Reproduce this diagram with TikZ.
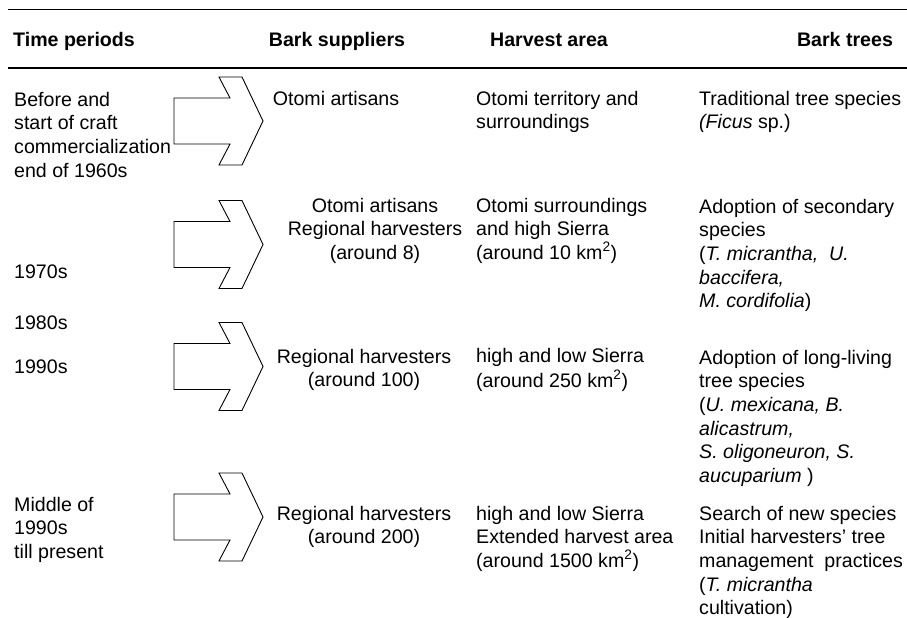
\documentclass[tikz,border=0pt]{standalone}
\usepackage{fontspec}
\setmainfont{Liberation Sans}
\begin{document}
\begin{tikzpicture}[x=1pt,y=1pt,
  txt/.style={inner sep=0pt, font=\fontsize{19.6}{23.6}\selectfont},
  colhead/.style={inner sep=0pt, font=\fontsize{19.6}{23.6}\selectfont\bfseries},
  lefttext/.style={txt, align=left, anchor=north west},
  midtext/.style={txt, align=center, anchor=north},
  bigarrow/.pic={\draw[line width=0.9pt, fill=white, line join=miter]
      (0,23) -- (56,23) -- (45,44) -- (68,44) -- (89,0) -- (68,-44)
      -- (45,-44) -- (56,-23) -- (0,-23) -- cycle;}
]
\useasboundingbox (0,0) rectangle (907,-618);

% table rules
\coordinate (topL) at (8,-10);  \coordinate (topR) at (907,-10);
\coordinate (midL) at (8,-68);  \coordinate (midR) at (907,-68);
\draw[line width=1pt] (topL) -- (topR);
\draw[line width=2.2pt] (midL) -- (midR);

% column headings
\node[colhead, anchor=base west] (hTime) at (13,-47) {Time periods};
\node[colhead, anchor=base] (hSupp) at (337,-47) {Bark suppliers};
\node[colhead, anchor=base] (hArea) at (549,-47) {Harvest area};
\node[colhead, anchor=base] (hTree) at (845,-47) {Bark trees};

% arrows between periods and suppliers
\pic at (174,-121) {bigarrow};
\pic at (174,-244.5) {bigarrow};
\pic at (174,-366.5) {bigarrow};
\pic at (174,-517) {bigarrow};

% time periods
\node[lefttext] (t1) at (14,-89.5) {\strut Before and\\start of craft\\commercialization\\end of 1960s};
\node[txt, anchor=base west] (t2) at (14,-278) {1970s};
\node[txt, anchor=base west] (t3a) at (14,-329) {1980s};
\node[txt, anchor=base west] (t3b) at (14,-373) {1990s};
\node[lefttext] (t4) at (14,-494.5) {\strut Middle of\\1990s\\till present};

% bark suppliers
\node[midtext] (s1) at (336,-88.5) {\strut Otomi artisans};
\node[midtext] (s2) at (375,-195.5) {\strut Otomi artisans\\Regional harvesters\\(around 8)};
\node[midtext] (s3) at (364,-346.5) {\strut Regional harvesters\\(around 100)};
\node[midtext] (s4) at (364,-503.5) {\strut Regional harvesters\\(around 200)};

% harvest area
\node[lefttext] (a1) at (476,-88.5) {\strut Otomi territory and\\surroundings};
\node[lefttext] (a2) at (476,-195.5) {\strut Otomi surroundings\\and high Sierra\\(around 10 km\textsuperscript{2})};
\node[lefttext] (a3) at (476,-345.5) {\strut high and low Sierra\\(around 250 km\textsuperscript{2})};
\node[lefttext] (a4) at (476,-503.5) {\strut high and low Sierra\\Extended harvest area\\(around 1500 km\textsuperscript{2})};

% bark trees
\node[lefttext] (b1) at (699,-88.5) {\strut Traditional tree species\\\textit{(Ficus} sp.)};
\node[lefttext] (b2) at (699,-196.5) {\strut Adoption of secondary\\species\\(\textit{T. micrantha,\ \ U.}\\\textit{baccifera,}\\\textit{M. cordifolia})};
\node[lefttext] (b3) at (699,-347.5) {\strut Adoption of long-living\\tree species\\(\textit{U. mexicana, B.}\\\textit{alicastrum,}\\\textit{S. oligoneuron, S.}\\\textit{aucuparium} )};
\node[lefttext] (b4) at (699,-503.5) {\strut Search of new species\\Initial harvesters’ tree\\management\ \ practices\\(\textit{T. micrantha}\\cultivation)};
\end{tikzpicture}
\end{document}
